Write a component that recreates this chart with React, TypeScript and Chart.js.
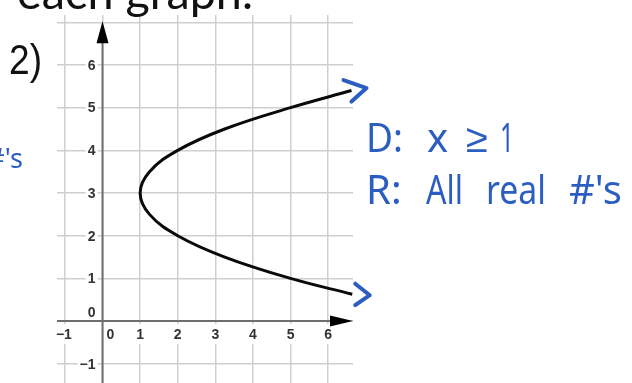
import React, { useEffect, useRef } from "react";
import { Chart, registerables } from "chart.js";

Chart.register(...registerables);

// Grid ticks and their printed labels
const xTicks = [-1, 0, 1, 2, 3, 4, 5, 6];
const yTicks = [-1, 0, 1, 2, 3, 4, 5, 6, 7];
const xLabels = ["−1", "0", "1", "2", "3", "4", "5", "6"];
const yLabelValues = [-1, 0, 1, 2, 3, 4, 5, 6];
const yLabels = ["−1", "0", "1", "2", "3", "4", "5", "6"];

// Sideways parabola, vertex at (1, 3), opening to the right
const curveX = [6.62, 5, 3.25, 2, 1.25, 1, 1.25, 2, 3.25, 5, 6.64];
const curveY = [5.4, 5, 4.5, 4, 3.5, 3, 2.5, 2, 1.5, 1, 0.63];

// Visible window of the grid
const xRange = [-1.21, 6.66];
const yRange = [-1.45, 7.17];

const problemNumber = "2)";
const headingText = "for each graph.";
const leftoverText = "#'s";

// Handwritten notes, written word by word: [text, left x, max width]
const domainWords: [string, number, number][] = [
  ["D:", 366, 37],
  ["x", 427, 23],
  ["≥", 466, 22],
  ["1", 500, 14],
];
const rangeWords: [string, number, number][] = [
  ["R:", 366, 37],
  ["All", 426, 37],
  ["real", 486, 60],
  ["#'s", 569, 55],
];

const INK = "#2c5ec2";
const AXIS = "#6e6e6e";
const GRID = "#cfcfcf";

const gridPlugin = {
  id: "axesAndLabels",
  beforeDatasetsDraw(chart: any) {
    const { ctx, chartArea } = chart;
    const xs = chart.scales.x;
    const ys = chart.scales.y;
    const x0 = xs.getPixelForValue(0);
    const y0 = ys.getPixelForValue(0);
    ctx.save();

    // tick labels on white patches
    ctx.font = "bold 14px 'Liberation Sans', Arial, sans-serif";
    ctx.textBaseline = "middle";
    const patch = (tx: number, ty: number, w: number, h: number) => {
      ctx.fillStyle = "#ffffff";
      ctx.fillRect(tx, ty, w, h);
    };
    yLabelValues.forEach((v, i) => {
      const t = yLabels[i];
      const w = ctx.measureText(t).width;
      const px = x0 - 7;
      const py = v === 0 ? y0 - 9 : ys.getPixelForValue(v);
      patch(px - w - 2, py - 8, w + 4, 16);
      ctx.fillStyle = "#333333";
      ctx.textAlign = "right";
      ctx.fillText(t, px, py + 1);
    });
    xTicks.forEach((v, i) => {
      const t = xLabels[i];
      const w = ctx.measureText(t).width;
      const px = v === 0 ? x0 + 8 : xs.getPixelForValue(v) - (v < 0 ? 1 : 0);
      const py = y0 + 13;
      patch(px - w / 2 - 2, py - 10, w + 4, 20);
      ctx.fillStyle = "#333333";
      ctx.textAlign = "center";
      ctx.fillText(t, px, py + 1);
    });

    // axes
    const topTip = ys.getPixelForValue(7) - 1;
    const rightTip = chartArea.right;
    ctx.strokeStyle = AXIS;
    ctx.lineWidth = 2;
    ctx.beginPath();
    ctx.moveTo(x0, topTip + 10);
    ctx.lineTo(x0, chartArea.bottom);
    ctx.moveTo(chartArea.left, y0);
    ctx.lineTo(rightTip - 10, y0);
    ctx.stroke();

    // arrow heads
    ctx.fillStyle = "#000000";
    ctx.beginPath();
    ctx.moveTo(x0, topTip);
    ctx.lineTo(x0 - 6, topTip + 22);
    ctx.lineTo(x0 + 6, topTip + 22);
    ctx.closePath();
    ctx.fill();
    ctx.beginPath();
    ctx.moveTo(rightTip, y0);
    ctx.lineTo(rightTip - 23, y0 - 5.5);
    ctx.lineTo(rightTip - 23, y0 + 5.5);
    ctx.closePath();
    ctx.fill();
    ctx.restore();
  },
  afterDatasetsDraw(chart: any) {
    const { ctx } = chart;
    const xs = chart.scales.x;
    const ys = chart.scales.y;
    ctx.save();

    // chevrons at both ends of the curve
    const n = curveX.length;
    const topEnd = [xs.getPixelForValue(curveX[0]), ys.getPixelForValue(curveY[0])];
    const botEnd = [xs.getPixelForValue(curveX[n - 1]), ys.getPixelForValue(curveY[n - 1])];
    ctx.strokeStyle = INK;
    ctx.lineWidth = 4;
    ctx.lineCap = "round";
    ctx.lineJoin = "round";
    ctx.beginPath();
    ctx.moveTo(topEnd[0] - 8, topEnd[1] - 10.5);
    ctx.lineTo(topEnd[0] + 15, topEnd[1] - 2.5);
    ctx.lineTo(topEnd[0], topEnd[1] + 11);
    ctx.stroke();
    ctx.beginPath();
    ctx.moveTo(botEnd[0] + 3, botEnd[1] - 10.5);
    ctx.lineTo(botEnd[0] + 17.5, botEnd[1] + 1);
    ctx.lineTo(botEnd[0] + 3, botEnd[1] + 11);
    ctx.stroke();

    // handwritten domain / range notes
    ctx.fillStyle = INK;
    ctx.textBaseline = "alphabetic";
    ctx.textAlign = "left";
    ctx.font = "40px 'Noto Sans', sans-serif";
    domainWords.forEach(([t, x, w]) => ctx.fillText(t, x, 152, w));
    rangeWords.forEach(([t, x, w]) => ctx.fillText(t, x, 204, w));
    ctx.font = "27px 'Noto Sans', sans-serif";
    ctx.textAlign = "right";
    ctx.fillText(leftoverText, 23, 168);

    // worksheet text
    ctx.fillStyle = "#111111";
    ctx.textAlign = "left";
    ctx.font = "42px 'Liberation Sans', Arial, sans-serif";
    ctx.fillText(problemNumber, 9, 74, 33);
    ctx.font = "40px Lato, sans-serif";
    const wEach = ctx.measureText("each graph.").width;
    const size = (40 * 236) / wEach;
    ctx.font = `${size}px Lato, sans-serif`;
    ctx.textAlign = "right";
    ctx.fillText(headingText, 253, 9);
    ctx.restore();
  },
};

export default function App() {
  const ref = useRef<HTMLCanvasElement | null>(null);

  useEffect(() => {
    if (!ref.current) return;
    const points = curveX.map((x, i) => ({ x, y: curveY[i] }));
    const chart = new Chart(ref.current, {
      type: "scatter",
      data: {
        datasets: [
          {
            data: points,
            showLine: true,
            borderColor: "#0a0a0a",
            borderWidth: 3,
            pointRadius: 0,
            tension: 0.4,
            clip: false,
          } as any,
        ],
      },
      options: {
        responsive: false,
        animation: false,
        devicePixelRatio: 1,
        layout: { padding: { left: 57, right: 279, top: 15, bottom: 0 } },
        plugins: { legend: { display: false }, tooltip: { enabled: false } },
        scales: {
          x: {
            type: "linear",
            min: xRange[0],
            max: xRange[1],
            afterBuildTicks: (s: any) => {
              s.ticks = xTicks.map((v) => ({ value: v }));
            },
            ticks: { display: false },
            border: { display: false },
            grid: { color: GRID, lineWidth: 1.5, drawTicks: false },
          },
          y: {
            type: "linear",
            min: yRange[0],
            max: yRange[1],
            afterBuildTicks: (s: any) => {
              s.ticks = yTicks.map((v) => ({ value: v }));
            },
            ticks: { display: false },
            border: { display: false },
            grid: { color: GRID, lineWidth: 1.5, drawTicks: false },
          },
        },
      },
      plugins: [gridPlugin],
    });
    return () => chart.destroy();
  }, []);

  return (
    <div style={{ position: "absolute", left: 0, top: 0, width: 632, height: 383, background: "#fff" }}>
      <canvas ref={ref} width={632} height={383} style={{ display: "block" }} />
    </div>
  );
}
